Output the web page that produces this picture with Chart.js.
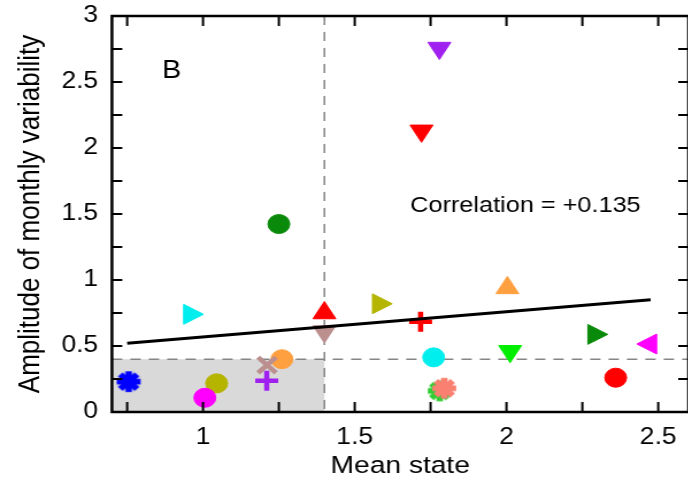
<!DOCTYPE html>
<html>
<head>
<meta charset="utf-8">
<script src="https://cdn.jsdelivr.net/npm/chart.js@4"></script>
<style>
  html, body { margin: 0; padding: 0; background: #fff; overflow: hidden; }
  /* the source figure is a little wider than tall, so stretch the canvas sideways */
  #wrap { width: 602px; height: 481px; transform: scaleX(1.1495); transform-origin: 0 0; }
</style>
</head>
<body>
<div id="wrap"><canvas id="scatter" width="602" height="481"></canvas></div>
<script>
// model values (mean state vs amplitude of monthly variability)
var meanState = [0.755, 0.958, 1.045, 1.006, 1.26, 1.211, 1.21, 1.25, 1.40, 1.40, 1.58,
                 1.717, 1.76, 1.78, 1.795, 2.003, 2.012, 2.29, 2.473, 2.36, 1.779, 1.72];
var amplitude = [0.23, 0.74, 0.217, 0.108, 0.40, 0.356, 0.237, 1.424, 0.61, 0.75, 0.82,
                 0.684, 0.414, 0.16, 0.18, 0.94, 0.46, 0.588, 0.515, 0.26, 2.757, 2.13];

// regression line
var fitX = [0.75, 2.475];
var fitY = [0.52, 0.85];

// thresholds of the shaded box
var threshX = 1.4;
var threshY = 0.4;

var xTickLabels = [1, 1.5, 2, 2.5];
var yTickLabels = [0, 0.5, 1, 1.5, 2, 2.5, 3];

// marker styles, one per model
var markerShape = ['star', 'triangle', 'circle', 'circle', 'circle', 'crossRot', 'cross', 'circle', 'triangle', 'triangle', 'triangle',
                   'cross', 'circle', 'star', 'star', 'triangle', 'triangle', 'triangle', 'triangle', 'circle', 'triangle', 'triangle'];
var markerTurn = [0, 90, 0, 0, 0, 0, 0, 0, 180, 0, 90,
                  0, 0, 0, 0, 0, 180, 90, 270, 0, 180, 180];
var markerColor = ['#0000ff', '#00eeee', '#b5b500', '#ff00ff', '#ffa040', '#bc8f8f', '#a020f0', '#0a8a0a', '#bc8f8f', '#ff0000', '#b5b500',
                   '#ff0000', '#00eeee', '#32cd32', '#fa8072', '#ffa040', '#00ee00', '#0a8a0a', '#ff00ff', '#ff0000', '#a020f0', '#ff0000'];

function starImage(color, r) {
  var c = document.createElement('canvas');
  c.width = c.height = Math.ceil(2 * r + 2);
  var g = c.getContext('2d');
  g.translate(c.width / 2, c.height / 2);
  g.fillStyle = color;
  g.strokeStyle = color;
  g.lineWidth = r * 0.5;
  for (var k = 0; k < 4; k++) {
    var a = k * Math.PI / 4;
    g.beginPath();
    g.moveTo(-Math.cos(a) * r * 0.9, -Math.sin(a) * r * 0.9);
    g.lineTo(Math.cos(a) * r * 0.9, Math.sin(a) * r * 0.9);
    g.stroke();
  }
  g.beginPath();
  g.arc(0, 0, r * 0.58, 0, Math.PI * 2);
  g.fill();
  return c;
}

var pts = meanState.map(function(v, i) { return {x: v, y: amplitude[i]}; });
var styles = markerShape.map(function(s, i) { return s == 'star' ? starImage(markerColor[i], 11.5) : s; });
var radii = markerShape.map(function(s) {
  if (s == 'circle') return 9.5;
  if (s == 'triangle') return 11.5;
  if (s == 'crossRot') return 11;
  return 10;
});
var widths = markerShape.map(function(s) { return (s == 'cross' || s == 'crossRot') ? 4.5 : 1; });

function onStep(v) {
  return Math.abs(v / 0.25 - Math.round(v / 0.25)) < 1e-6;
}
function tickText(list) {
  return function(v) {
    var hit = list.filter(function(l) { return Math.abs(l - v) < 1e-6; });
    return hit.length ? String(hit[0]) : '';
  };
}
function fixBox(s) {
  s.paddingTop = 0; s.paddingBottom = 0; s.paddingLeft = 0; s.paddingRight = 0;
}

var decor = {
  id: 'decor',
  beforeDatasetsDraw: function(chart) {
    var ctx = chart.ctx, a = chart.chartArea;
    var px = chart.scales.x.getPixelForValue(threshX);
    var py = chart.scales.y.getPixelForValue(threshY);
    ctx.save();
    ctx.fillStyle = '#d9d9d9';
    ctx.fillRect(a.left, py, px - a.left, a.bottom - py);
    ctx.strokeStyle = '#858585';
    ctx.lineWidth = 1.5;
    ctx.setLineDash([9, 7]);
    ctx.beginPath();
    ctx.moveTo(px, a.top); ctx.lineTo(px, a.bottom);
    ctx.moveTo(a.left, py); ctx.lineTo(a.right, py);
    ctx.stroke();
    ctx.restore();
  },
  afterDatasetsDraw: function(chart) {
    var ctx = chart.ctx, a = chart.chartArea;
    var xs = chart.scales.x, ys = chart.scales.y;
    ctx.save();
    ctx.strokeStyle = '#000';
    ctx.lineWidth = 2;
    // inward ticks on all four sides
    ctx.beginPath();
    xs.ticks.forEach(function(t) {
      var p = xs.getPixelForValue(t.value);
      ctx.moveTo(p, a.bottom); ctx.lineTo(p, a.bottom - 10);
      ctx.moveTo(p, a.top); ctx.lineTo(p, a.top + 10);
    });
    ys.ticks.forEach(function(t) {
      var p = ys.getPixelForValue(t.value);
      ctx.moveTo(a.left, p); ctx.lineTo(a.left + 9, p);
      ctx.moveTo(a.right, p); ctx.lineTo(a.right - 9, p);
    });
    ctx.stroke();
    ctx.lineWidth = 2.5;
    ctx.strokeRect(a.left, a.top, a.right - a.left, a.bottom - a.top);
    // panel letter and correlation note
    ctx.fillStyle = '#000';
    ctx.textAlign = 'left';
    ctx.textBaseline = 'alphabetic';
    ctx.font = '25px "Liberation Sans", Arial, sans-serif';
    ctx.fillText('B', xs.getPixelForValue(0.865), ys.getPixelForValue(2.53));
    ctx.font = '22px "Liberation Sans", Arial, sans-serif';
    ctx.fillText('Correlation = +0.135', xs.getPixelForValue(1.6825), ys.getPixelForValue(1.517));
    ctx.restore();
  }
};

Chart.defaults.font.family = '"Liberation Sans", Arial, sans-serif';
Chart.defaults.color = '#000';

var ctx = document.getElementById('scatter');
var chart = new Chart(ctx, {
  type: 'scatter',
  data: {
    datasets: [{
      type: 'line',
      data: fitX.map(function(v, i) { return {x: v, y: fitY[i]}; }),
      borderColor: '#000',
      borderWidth: 3,
      pointRadius: 0,
      order: 0
    }, {
      data: pts,
      pointStyle: styles,
      rotation: markerTurn,
      pointRadius: radii,
      backgroundColor: markerColor,
      borderColor: markerColor,
      borderWidth: widths,
      order: 1
    }]
  },
  options: {
    responsive: false,
    animation: false,
    devicePixelRatio: 1,
    layout: { autoPadding: false, padding: { top: 16, right: 3, bottom: 0, left: 0 } },
    plugins: { legend: { display: false }, tooltip: { enabled: false } },
    scales: {
      x: {
        type: 'linear',
        min: 0.7,
        max: 2.6,
        grid: { display: false, drawTicks: false },
        border: { display: false },
        afterBuildTicks: function(s) { s.ticks = s.ticks.filter(function(t) { return onStep(t.value); }); },
        afterFit: function(s) { s.height = 69; fixBox(s); },
        ticks: {
          stepSize: 0.25,
          includeBounds: false,
          autoSkip: false,
          maxRotation: 0,
          padding: 12,
          font: { size: 23 },
          callback: tickText(xTickLabels)
        },
        title: { display: true, text: 'Mean state', font: { size: 24.5 }, padding: { top: 0, bottom: 0 } }
      },
      y: {
        type: 'linear',
        min: 0,
        max: 3,
        grid: { display: false, drawTicks: false },
        border: { display: false },
        afterBuildTicks: function(s) { s.ticks = s.ticks.filter(function(t) { return onStep(t.value); }); },
        afterFit: function(s) { s.width = 97.4; fixBox(s); },
        ticks: {
          stepSize: 0.25,
          autoSkip: false,
          padding: 12,
          font: { size: 23 },
          callback: tickText(yTickLabels)
        },
        title: { display: true, text: 'Amplitude of monthly variability', font: { size: 26 }, padding: { top: 11, bottom: 0 } }
      }
    }
  },
  plugins: [decor]
});
</script>
</body>
</html>
